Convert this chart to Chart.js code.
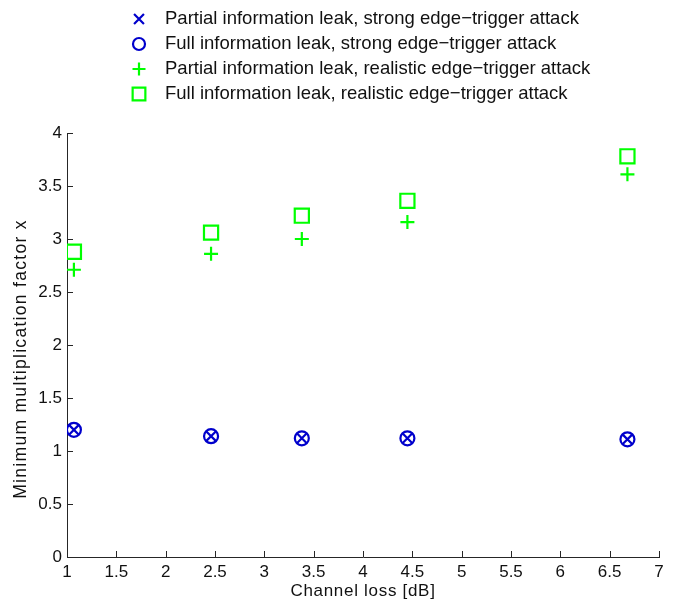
<!DOCTYPE html>
<html>
<head>
<meta charset="utf-8">
<script src="https://cdn.jsdelivr.net/npm/chart.js@4.4.1/dist/chart.umd.min.js"></script>
<style>
  html, body { margin: 0; padding: 0; background: #fff; }
  #wrap { width: 678px; height: 601px; position: relative; }
</style>
</head>
<body>
<div id="wrap"><canvas id="chart" width="678" height="601"></canvas></div>
<script>
// Channel loss [dB] for each measurement
const channelLoss = [1.07, 2.46, 3.38, 4.45, 6.68];

// Minimum multiplication factor x, per scenario
const partialStrong = [1.20, 1.14, 1.12, 1.12, 1.11];
const fullStrong = [1.20, 1.14, 1.12, 1.12, 1.11];
const partialRealistic = [2.71, 2.86, 3.00, 3.16, 3.61];
const fullRealistic = [2.88, 3.06, 3.22, 3.36, 3.78];

const seriesLabels = [
    'Partial information leak, strong edge\u2212trigger attack',
    'Full information leak, strong edge\u2212trigger attack',
    'Partial information leak, realistic edge\u2212trigger attack',
    'Full information leak, realistic edge\u2212trigger attack'
];

const xTitle = 'Channel loss [dB]';
const yTitle = 'Minimum multiplication factor x';

const BLUE = '#0000cc';
const GREEN = '#00ff00';
const FONT = '"Liberation Sans", Arial, Helvetica, sans-serif';

function toPoints(ys) {
    return channelLoss.map((x, i) => ({ x: x, y: ys[i] }));
}

const styles = [
    { color: BLUE, pointStyle: 'crossRot', radius: 7, legendRadius: 7 },
    { color: BLUE, pointStyle: 'circle', radius: 7, legendRadius: 6 },
    { color: GREEN, pointStyle: 'cross', radius: 7, legendRadius: 6.5 },
    { color: GREEN, pointStyle: 'rect', radius: 10, legendRadius: 9 }
];

const seriesData = [partialStrong, fullStrong, partialRealistic, fullRealistic];

const datasets = seriesData.map((ys, i) => ({
    label: seriesLabels[i],
    data: toPoints(ys),
    showLine: false,
    pointStyle: styles[i].pointStyle,
    pointRadius: styles[i].radius,
    pointHoverRadius: styles[i].radius,
    borderColor: styles[i].color,
    backgroundColor: 'rgba(0,0,0,0)',
    pointBorderWidth: 2.2
}));

// inward tick marks + axis titles (MATLAB-like spacing)
const axisExtras = {
    id: 'axisExtras',
    afterDraw(chart) {
        const ctx = chart.ctx;
        const xs = chart.scales.x, ys = chart.scales.y;
        const area = chart.chartArea;
        ctx.save();
        ctx.strokeStyle = '#262626';
        ctx.lineWidth = 1;
        ctx.beginPath();
        xs.ticks.forEach(t => {
            const px = Math.round(xs.getPixelForValue(t.value)) + 0.5;
            ctx.moveTo(px, area.bottom);
            ctx.lineTo(px, area.bottom - 6);
        });
        ys.ticks.forEach(t => {
            const py = Math.round(ys.getPixelForValue(t.value)) + 0.5;
            ctx.moveTo(area.left, py);
            ctx.lineTo(area.left + 6, py);
        });
        ctx.stroke();

        ctx.fillStyle = '#111';
        ctx.textAlign = 'center';
        ctx.textBaseline = 'middle';
        ctx.font = '17px ' + FONT;
        ctx.letterSpacing = '0.7px';
        ctx.fillText(xTitle, (area.left + area.right) / 2, 591);

        ctx.font = '17.5px ' + FONT;
        ctx.letterSpacing = '1.3px';
        ctx.translate(21.5, 359);
        ctx.rotate(-Math.PI / 2);
        ctx.fillText(yTitle, 0, 0);
        ctx.restore();
    }
};

// legend stacked at the top, markers in a column
const stackedLegend = {
    id: 'stackedLegend',
    afterDraw(chart) {
        const ctx = chart.ctx;
        ctx.save();
        ctx.font = '18.5px ' + FONT;
        ctx.textBaseline = 'middle';
        ctx.textAlign = 'left';
        chart.data.datasets.forEach((ds, i) => {
            const y = 19 + i * 25;
            ctx.strokeStyle = ds.borderColor;
            ctx.fillStyle = 'rgba(0,0,0,0)';
            ctx.lineWidth = 2.2;
            Chart.helpers.drawPoint(ctx, {
                pointStyle: ds.pointStyle,
                radius: styles[i].legendRadius,
                rotation: 0,
                borderWidth: 2.2
            }, 139, y);
            ctx.fillStyle = '#111';
            ctx.fillText(ds.label, 165, y);
        });
        ctx.restore();
    }
};

new Chart(document.getElementById('chart'), {
    type: 'scatter',
    data: { datasets: datasets },
    plugins: [axisExtras, stackedLegend],
    options: {
        responsive: false,
        animation: false,
        layout: { padding: { left: 0, top: 133, right: 19, bottom: 0 } },
        plugins: {
            legend: { display: false },
            tooltip: { enabled: false }
        },
        scales: {
            x: {
                type: 'linear',
                min: 1,
                max: 7,
                afterFit: s => { s.height = 44; },
                grid: { display: false, drawTicks: false },
                border: { display: true, color: '#262626', width: 1 },
                ticks: {
                    stepSize: 0.5,
                    padding: 5,
                    color: '#111',
                    font: { family: FONT, size: 17 },
                    callback: v => String(v)
                }
            },
            y: {
                type: 'linear',
                min: 0,
                max: 4,
                afterFit: s => { s.width = 67; },
                grid: { display: false, drawTicks: false },
                border: { display: true, color: '#262626', width: 1 },
                ticks: {
                    stepSize: 0.5,
                    padding: 5,
                    color: '#111',
                    font: { family: FONT, size: 17 },
                    callback: v => String(v)
                }
            }
        }
    }
});
</script>
</body>
</html>
